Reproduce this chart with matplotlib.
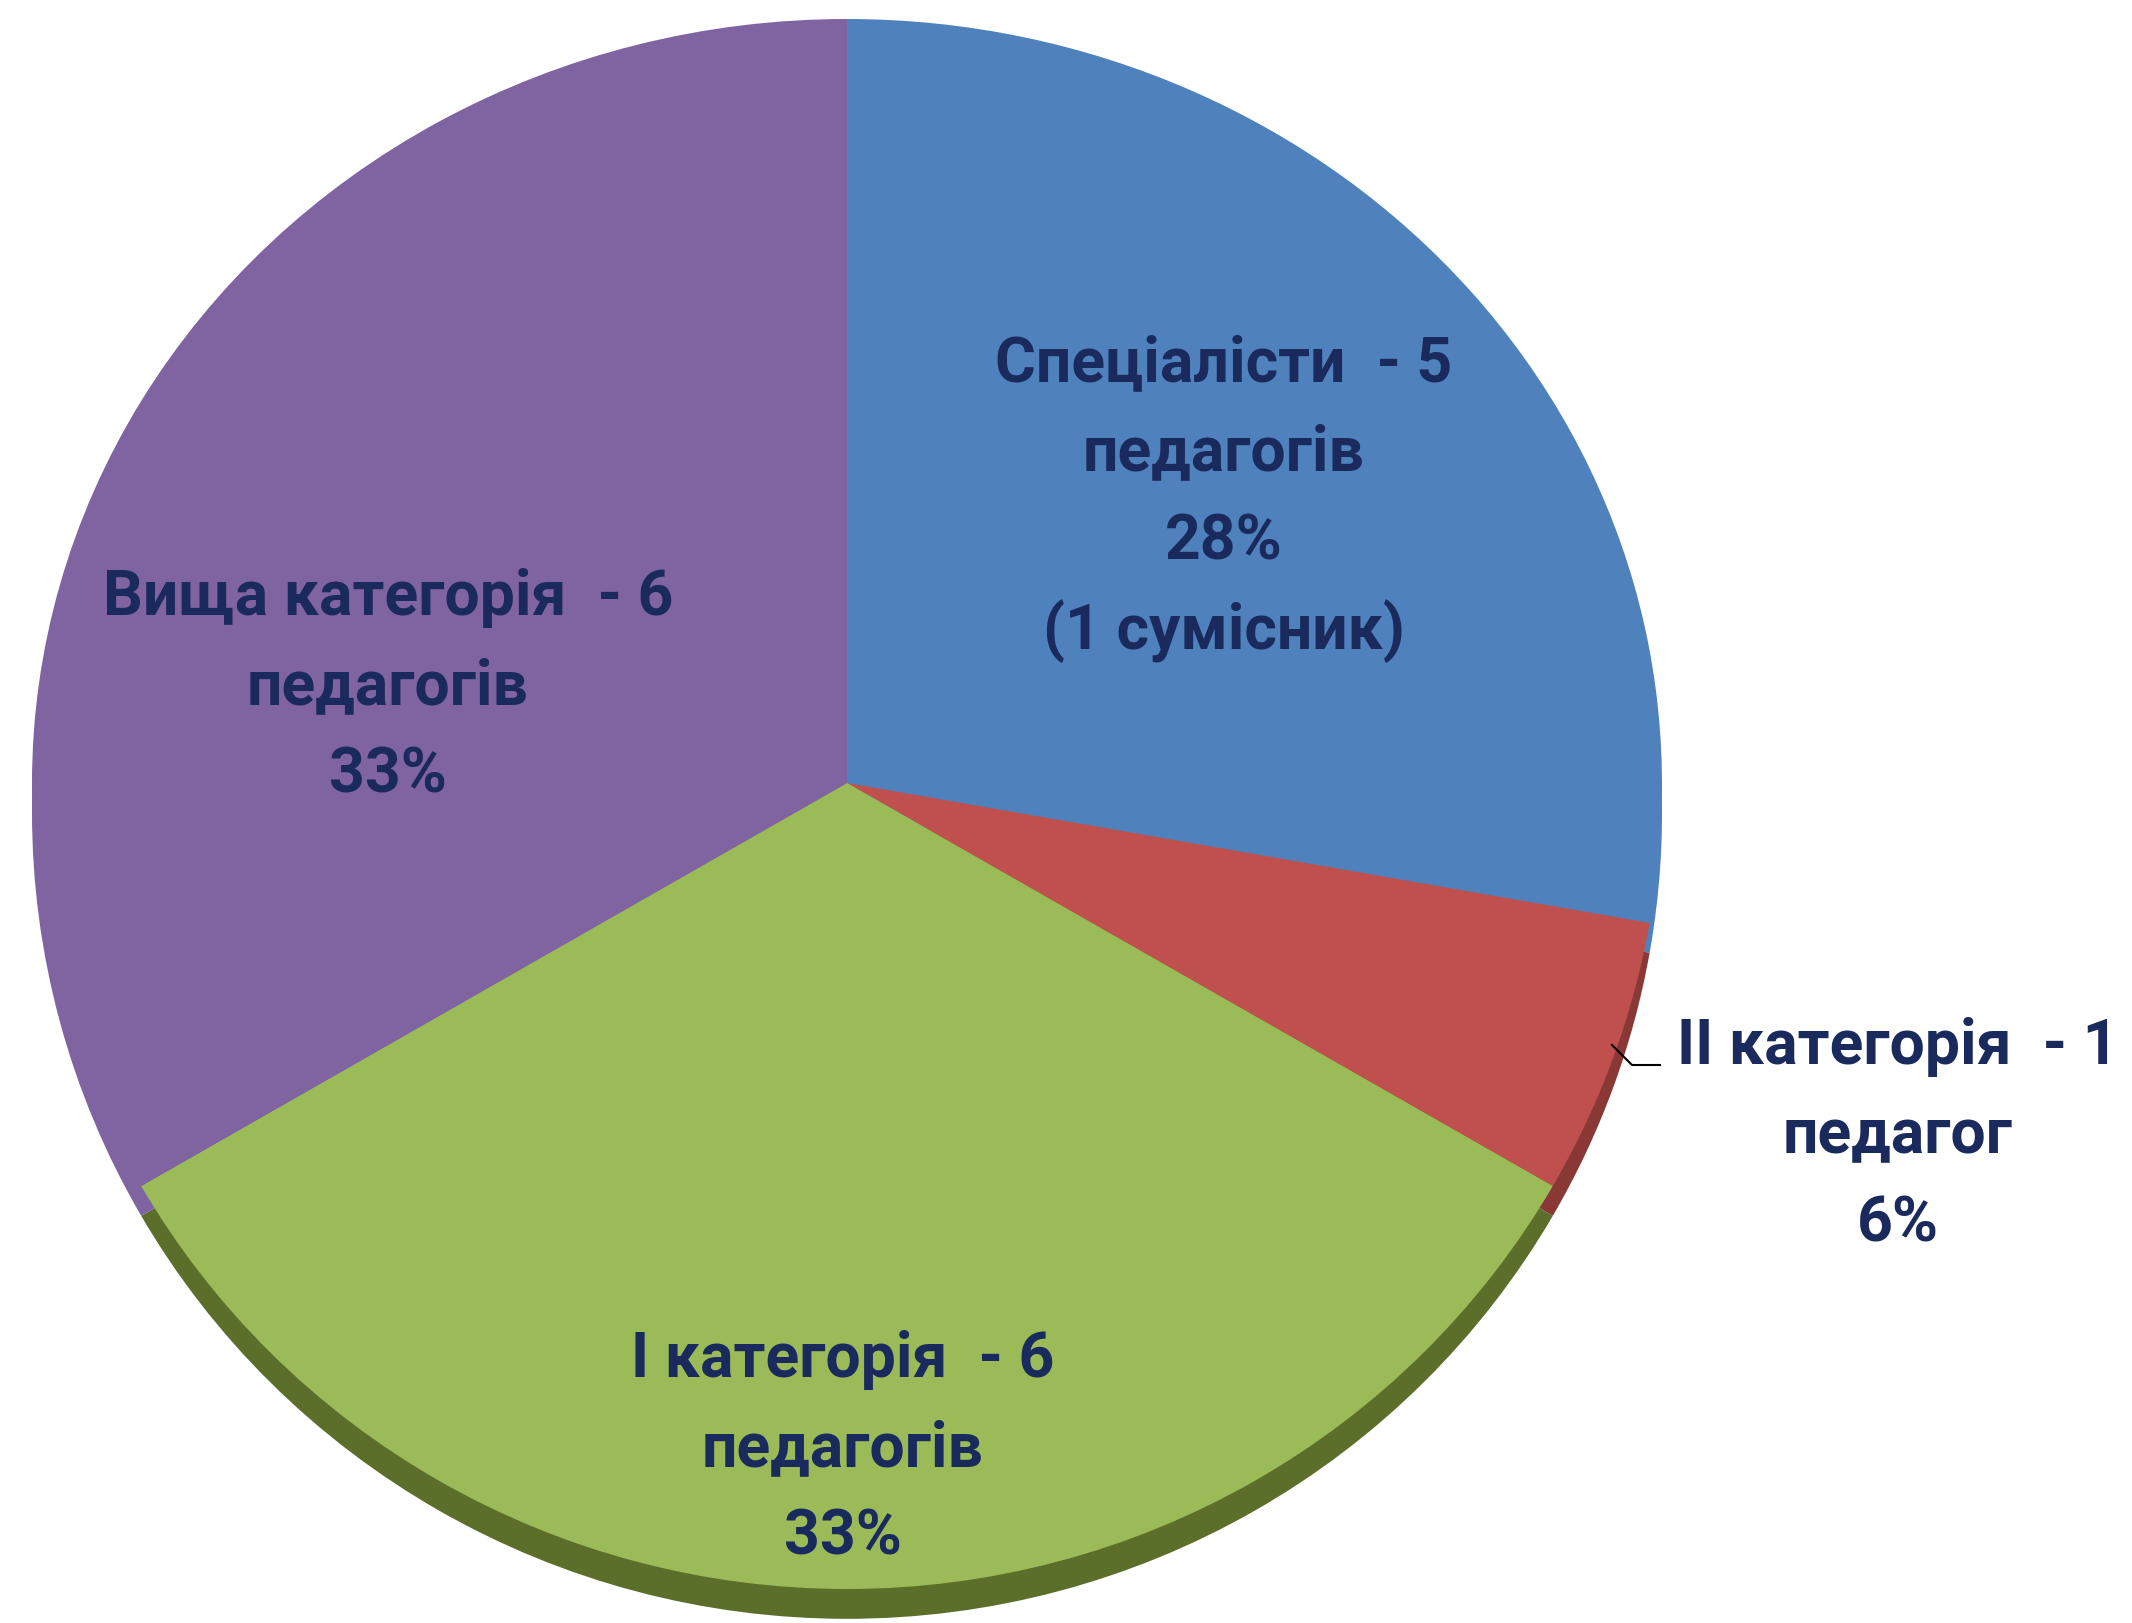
import matplotlib
matplotlib.use("Agg")
import matplotlib.pyplot as plt
import numpy as np

# ---- data ----
categories = ["Спеціалісти", "ІІ категорія", "І категорія", "Вища категорія"]
counts = [5, 1, 6, 6]
units = ["педагогів", "педагог", "педагогів", "педагогів"]
notes = ["(1 сумісник)", "", "", ""]
colors = ["#4F81BD", "#C0504D", "#9BBB59", "#8064A2"]
side_colors = ["#4F81BD", "#8a3835", "#5b6e2a", "#8064A2"]

W, H = 2132, 1624
DPI = 100
fig = plt.figure(figsize=(W / DPI, H / DPI), dpi=DPI, facecolor="white")
ax = fig.add_axes([0, 0, 1, 1])

# pie geometry (pixels in the full image); slight perspective: upper half flatter
cx, cy, rx = 847, 784, 815
ry_top, ry_bot = 764, 806

def fwd(y):
    y = np.asarray(y, dtype=float)
    return np.where(y > 0, y * ry_top, y * ry_bot)

def inv(v):
    v = np.asarray(v, dtype=float)
    return np.where(v > 0, v / ry_top, v / ry_bot)

# 3D-like side (thickness) drawn first, shifted down
ax.pie(counts, colors=side_colors, startangle=90, counterclock=False,
       radius=1.0, center=(0, -0.037), wedgeprops=dict(linewidth=0))
ax.pie(counts, colors=colors, startangle=90, counterclock=False,
       radius=1.0, center=(0, 0), wedgeprops=dict(linewidth=0))
ax.set_aspect("auto")
ax.set_yscale("function", functions=(fwd, inv))
ax.set_xlim(-cx / rx, (W - cx) / rx)
ax.set_ylim(-(H - cy) / ry_bot, cy / ry_top)
ax.axis("off")

total = sum(counts)
label_lines = []
for c, n, u, note in zip(categories, counts, units, notes):
    lines = [f"{c}  - {n}", u, f"{round(100 * n / total)}%"]
    if note:
        lines.append(note)
    label_lines.append(lines)

# label anchor positions (pixel centres of first line) and line step
anchors = [(1224, 364), (1898, 1047), (843, 1360), (388, 598)]
step = 89
txt_color = "#1b2a5c"
fam = ["Roboto", "DejaVu Sans"]

def to_fig(x, y):
    return x / W, 1 - y / H

for lines, (ax0, ay0) in zip(label_lines, anchors):
    for i, line in enumerate(lines):
        fx, fy = to_fig(ax0, ay0 + i * step)
        fig.text(fx, fy, line, ha="center", va="center", fontsize=45,
                 fontweight="bold", color=txt_color, family=fam)

# leader line for the small slice
p = [to_fig(1612, 1046), to_fig(1632, 1066), to_fig(1660, 1066)]
fig.add_artist(plt.Line2D([q[0] for q in p], [q[1] for q in p],
                          transform=fig.transFigure, color="black", linewidth=1.5))

fig.savefig("out.png", dpi=DPI, facecolor="white")
